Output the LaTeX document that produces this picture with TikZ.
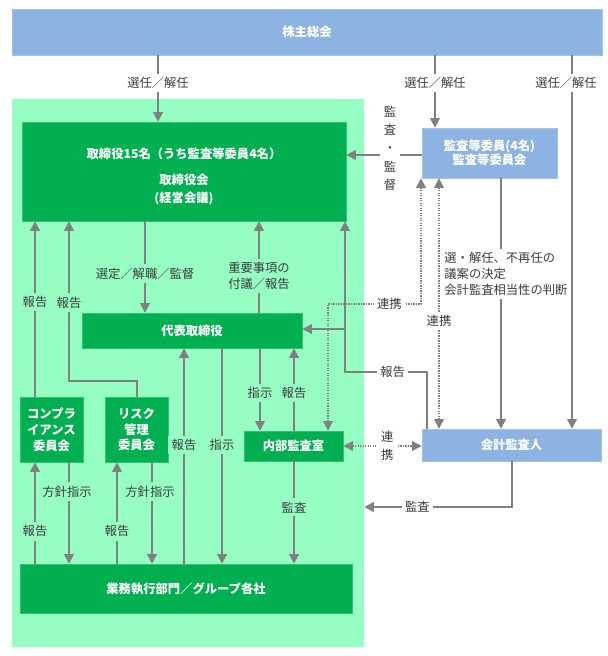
\documentclass[tikz,border=0pt]{standalone}
\usepackage{fontspec}
\setmainfont{Noto Sans CJK JP}
\usepackage{tikz}
\usetikzlibrary{arrows.meta,positioning,calc}

\definecolor{boxblue}{RGB}{141,179,226}
\definecolor{boxgreen}{RGB}{0,176,80}
\definecolor{bggreen}{RGB}{150,254,195}
\definecolor{linegray}{RGB}{128,128,128}
\definecolor{labelgray}{RGB}{60,60,60}

\begin{document}
\fontsize{10.5}{13.5}\selectfont
\begin{tikzpicture}[x=0.3mm, y=-0.3mm,
    gbox/.style={rectangle, fill=boxgreen, draw=boxgreen!80!white, text=white, font=\bfseries, align=center, inner sep=0},
    bbox/.style={rectangle, fill=boxblue, draw=boxblue!80!white, text=white, font=\bfseries, align=center, inner sep=0},
    arr/.style={draw=linegray, line width=0.55mm, -{Triangle[width=2.9mm,length=2.9mm]}},
    dotarr/.style={draw=linegray, line width=0.4mm, densely dotted, {Triangle[width=2.9mm,length=2.9mm]}-{Triangle[width=2.9mm,length=2.9mm]}},
    lblw/.style={fill=white, text=labelgray, inner sep=3pt, align=center},
    lblg/.style={fill=bggreen, text=labelgray, inner sep=3pt, align=center}
]
\useasboundingbox (0,0) rectangle (607,656);

% 背景
\node[fill=bggreen, minimum width=105.6mm, minimum height=164.4mm, inner sep=0] (group) at (188,373) {};

% 組織
\node[bbox, minimum width=177mm, minimum height=13.8mm] (sou) at (307,32) {株主総会};
\node[gbox, minimum width=97.2mm, minimum height=29.7mm] (tori) at (184,171.5) {\rule{0pt}{17.5pt}取締役15名（うち監査等委員4名）\\[8.5pt]取締役会\\[1.5pt](経営会議)};
\node[bbox, minimum width=40.5mm, minimum height=15mm] (kansa) at (489.5,153) {監査等委員(4名)\\[-1.5pt]監査等委員会};
\node[gbox, minimum width=66mm, minimum height=10.5mm] (daihyo) at (192,330.5) {代表取締役};
\node[gbox, minimum width=18.9mm, minimum height=19.5mm] (comp) at (51.5,429.5) {コンプラ\\イアンス\\委員会};
\node[gbox, minimum width=18.9mm, minimum height=19.5mm] (risk) at (136.5,429.5) {リスク\\管理\\委員会};
\node[gbox, minimum width=29.7mm, minimum height=9mm] (naibu) at (293.5,446) {内部監査室};
\node[bbox, minimum width=53.7mm, minimum height=9.6mm] (kaikei) at (511.5,445) {会計監査人};
\node[gbox, minimum width=99.6mm, minimum height=14.7mm] (gyomu) at (186,588.5) {業務執行部門／グループ各社};

% 株主総会から
\draw[arr] (sou.south -| 158,0) -- node[lblw, pos=0.42]{選任／解任} (tori.north -| 158,0);
\draw[arr] (sou.south -| 435,0) -- node[lblw, pos=0.38]{選任／解任} (kansa.north -| 435,0);
\draw[arr] (kansa.west |- 0,155) -- node[lblw, pos=0.42, yshift=2mm]{監\\[2pt]査\\[2pt]・\\[2pt]監\\[2pt]督} (tori.east |- 0,155);
\draw[arr] (kansa.south -| 501,0) -- (kaikei.north -| 501,0);
\node[lblw, align=left, anchor=west, inner xsep=1pt] (senin) at (443,274) {選・解任、不再任の\\議案の決定\\会計監査相当性の判断};
\draw[arr] (sou.south -| 572,0) -- node[lblw, pos=0.075, xshift=-1.8mm]{選任／解任} (kaikei.north -| 572,0);

% 連携
\draw[dotarr] (kansa.south -| 421,0) |- node[lblw, pos=0.67]{連携} (328,304) -- (naibu.north -| 328,0);
\draw[dotarr] (kansa.south -| 439,0) -- node[lblw, pos=0.57]{連携} (kaikei.north -| 439,0);
\draw[dotarr] (naibu.east) -- node[lblw, pos=0.56]{連\\[2pt]携} (naibu.east -| kaikei.west);

% 会計監査人
\draw[arr] (kaikei.north -| 427,0) |- node[lblw, pos=0.71]{報告} (345,372) -- (tori.south -| 345,0);
\coordinate (bunki) at (345,329);
\draw[arr] (bunki) -- (daihyo.east |- bunki);
\draw[arr] (kaikei.south -| 512,0) |- node[lblw, pos=0.82]{監査} (group.east |- 0,507);

% 社内
\draw[arr] (tori.south -| 145,0) -- node[lblg, pos=0.57]{選定／解職／監督} (daihyo.north -| 145,0);
\draw[arr] (daihyo.north -| 259,0) -- node[lblg, pos=0.40]{重要事項の\\付議／報告} (tori.south -| 259,0);
\draw[arr] (comp.north -| 35,0) -- node[lblg, pos=0.54]{報告} (tori.south -| 35,0);
\draw[arr] (risk.north -| 137,0) |- (69,381) -- node[lblg, pos=0.49]{報告} (tori.south -| 69,0);
\draw[arr] (daihyo.south -| 260,0) -- node[lblg, pos=0.54]{指示} (naibu.north -| 260,0);
\draw[arr] (naibu.north -| 294,0) -- node[lblg, pos=0.46]{報告} (daihyo.south -| 294,0);
\draw[arr] (gyomu.north -| 184,0) -- node[lblg, pos=0.55]{報告} (daihyo.south -| 184,0);
\draw[arr] (daihyo.south -| 222,0) -- node[lblg, pos=0.45]{指示} (gyomu.north -| 222,0);
\draw[arr] (naibu.south -| 294,0) -- node[lblg, pos=0.45]{監査} (gyomu.north -| 294,0);

% 委員会
\draw[arr] (gyomu.north -| 35,0) -- node[lblg, pos=0.32]{報告} (comp.south -| 35,0);
\draw[arr] (comp.south -| 69,0) -- node[lblg, pos=0.29, xshift=-0.6mm]{方針指示} (gyomu.north -| 69,0);
\draw[arr] (gyomu.north -| 117,0) -- node[lblg, pos=0.32]{報告} (risk.south -| 117,0);
\draw[arr] (risk.south -| 152,0) -- node[lblg, pos=0.29, xshift=-0.6mm]{方針指示} (gyomu.north -| 152,0);

\end{tikzpicture}
\end{document}
